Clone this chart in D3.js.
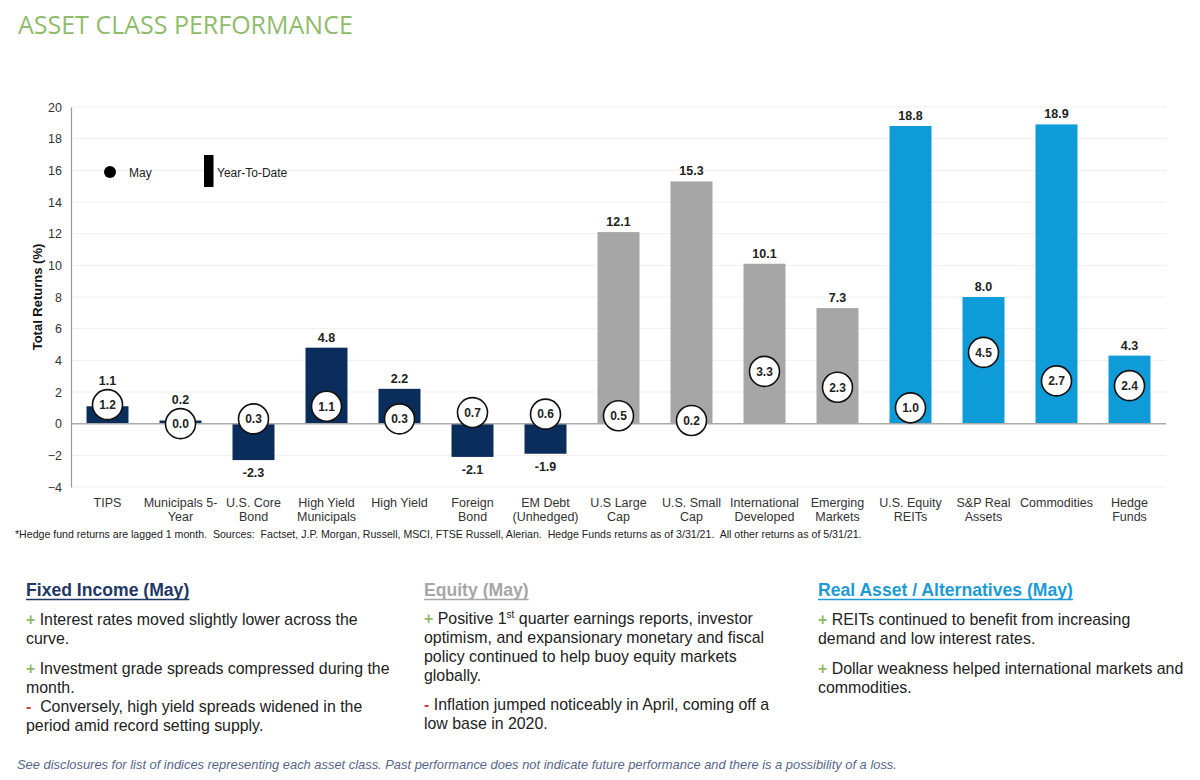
<!DOCTYPE html>
<html><head><meta charset="utf-8">
<script src="https://cdn.jsdelivr.net/npm/d3@7"></script>
<style>
html,body{margin:0;padding:0;background:#fff;}
svg{display:block;}
</style></head>
<body>
<svg id="chart" width="1200" height="780"></svg>
<script>
const categories = ["TIPS","Municipals 5-\nYear","U.S. Core\nBond","High Yield\nMunicipals","High Yield","Foreign\nBond","EM Debt\n(Unhedged)","U.S Large\nCap","U.S. Small\nCap","International\nDeveloped","Emerging\nMarkets","U.S. Equity\nREITs","S&P Real\nAssets","Commodities","Hedge\nFunds"];
const ytdValues = [1.1, 0.2, -2.3, 4.8, 2.2, -2.1, -1.9, 12.1, 15.3, 10.1, 7.3, 18.8, 8.0, 18.9, 4.3];
const mayValues = [1.2, 0.0, 0.3, 1.1, 0.3, 0.7, 0.6, 0.5, 0.2, 3.3, 2.3, 1.0, 4.5, 2.7, 2.4];
const groups = ["fixed","fixed","fixed","fixed","fixed","fixed","fixed","equity","equity","equity","equity","real","real","real","real"];
const yTicks = [-4,-2,0,2,4,6,8,10,12,14,16,18,20];

const groupColor = {fixed:"#0b2d5b", equity:"#a6a6a6", real:"#0f9ad8"};

const svg = d3.select("#chart");
const plotLeft = 71, plotRight = 1166, plotTop = 107, plotBottom = 487;

const x = d3.scaleBand().domain(d3.range(categories.length)).range([plotLeft, plotRight]).paddingInner(0.425).paddingOuter(0.2125);
const y = d3.scaleLinear().domain([-4, 20]).range([plotBottom, plotTop]);

// title
svg.append("text").attr("x", 18).attr("y", 34).attr("font-family", "Open Sans").attr("font-size", 25)
  .attr("fill", "#8fbc6c").text("ASSET CLASS PERFORMANCE");

// gridlines
svg.append("g").selectAll("line").data(yTicks.filter(d => d !== 0)).join("line")
  .attr("x1", plotLeft).attr("x2", plotRight).attr("y1", d => y(d)).attr("y2", d => y(d))
  .attr("stroke", "#efefef").attr("stroke-width", 1);

// y axis
const yAxis = d3.axisLeft(y).tickValues(yTicks).tickSize(0).tickPadding(9).tickFormat(d3.format("d"));
const yg = svg.append("g").attr("transform", `translate(${plotLeft},0)`).call(yAxis);
yg.select(".domain").attr("stroke", "#999").attr("stroke-width", 1.2);
yg.selectAll("text").attr("font-family", "Liberation Sans, Arial").attr("font-size", 12.5).attr("fill", "#333");

svg.append("text").attr("transform", `translate(42,${y(8)}) rotate(-90)`).attr("text-anchor", "middle")
  .attr("font-family", "Liberation Sans, Arial").attr("font-weight", "bold").attr("font-size", 13).attr("fill", "#111")
  .text("Total Returns (%)");

// bars
svg.append("g").selectAll("rect").data(ytdValues).join("rect")
  .attr("x", (d, i) => x(i)).attr("width", x.bandwidth())
  .attr("y", d => y(Math.max(0, d))).attr("height", d => Math.abs(y(d) - y(0)))
  .attr("fill", (d, i) => groupColor[groups[i]]);

// zero line
svg.append("line").attr("x1", plotLeft).attr("x2", plotRight).attr("y1", y(0)).attr("y2", y(0))
  .attr("stroke", "#aaa").attr("stroke-width", 1.5);

const R = 15;
// value labels
svg.append("g").selectAll("text").data(ytdValues).join("text")
  .attr("x", (d, i) => x(i) + x.bandwidth() / 2)
  .attr("y", (d, i) => {
    if (d < 0) return y(d) + 17;
    const circTop = y(mayValues[i]) - R;
    return Math.min(y(d) - 6, circTop - 5);
  })
  .attr("text-anchor", "middle").attr("font-family", "Liberation Sans, Arial").attr("font-weight", "bold")
  .attr("font-size", 12.5).attr("fill", "#222").text(d => d.toFixed(1));

// May circles
const cg = svg.append("g").selectAll("g").data(mayValues).join("g")
  .attr("transform", (d, i) => `translate(${x(i) + x.bandwidth() / 2},${y(d)})`);
cg.append("circle").attr("r", R).attr("fill", "#fff").attr("stroke", "#111").attr("stroke-width", 1.6);
cg.append("text").attr("text-anchor", "middle").attr("dy", "0.36em")
  .attr("font-family", "Liberation Sans, Arial").attr("font-weight", "bold").attr("font-size", 12).attr("fill", "#222")
  .text(d => d.toFixed(1));

// x labels
const xl = svg.append("g").selectAll("text").data(categories).join("text")
  .attr("x", (d, i) => x(i) + x.bandwidth() / 2).attr("y", 507)
  .attr("text-anchor", "middle").attr("font-family", "Liberation Sans, Arial").attr("font-size", 12.5).attr("fill", "#333");
xl.each(function(d) {
  const t = d3.select(this);
  d.split("\n").forEach((line, k) => {
    t.append("tspan").attr("x", t.attr("x")).attr("dy", k === 0 ? 0 : 14).text(line);
  });
});

// legend
svg.append("circle").attr("cx", 110).attr("cy", 172).attr("r", 6).attr("fill", "#000");
svg.append("text").attr("x", 129).attr("y", 176.5).attr("font-family", "Liberation Sans, Arial").attr("font-size", 12).attr("fill", "#222").text("May");
svg.append("rect").attr("x", 204).attr("y", 155).attr("width", 9.5).attr("height", 32).attr("fill", "#000");
svg.append("text").attr("x", 217).attr("y", 176.5).attr("font-family", "Liberation Sans, Arial").attr("font-size", 12).attr("fill", "#222").text("Year-To-Date");

// footnote
svg.append("text").attr("x", 15).attr("y", 538).attr("font-family", "Liberation Sans, Arial").attr("font-size", 10.6)
  .attr("fill", "#222").style("white-space", "pre")
  .text("*Hedge fund returns are lagged 1 month.  Sources:  Factset, J.P. Morgan, Russell, MSCI, FTSE Russell, Alerian.  Hedge Funds returns as of 3/31/21.  All other returns as of 5/31/21.");

// commentary sections
const sections = [
  {x: 26, title: "Fixed Income (May)", color: "#1f3864", lines: [
    {y: 625, sign: "+", text: " Interest rates moved slightly lower across the"},
    {y: 644, text: "curve."},
    {y: 674, sign: "+", text: " Investment grade spreads compressed during the"},
    {y: 693, text: "month."},
    {y: 712, sign: "-", text: "  Conversely, high yield spreads widened in the"},
    {y: 731, text: "period amid record setting supply."}
  ]},
  {x: 424, title: "Equity (May)", color: "#a6a6a6", lines: [
    {y: 624, sign: "+", text: " Positive 1", sup: "st", rest: " quarter earnings reports, investor"},
    {y: 643, text: "optimism, and expansionary monetary and fiscal"},
    {y: 662, text: "policy continued to help buoy equity markets"},
    {y: 681, text: "globally."},
    {y: 710, sign: "-", text: " Inflation jumped noticeably in April, coming off a"},
    {y: 729, text: "low base in 2020."}
  ]},
  {x: 818, title: "Real Asset / Alternatives (May)", color: "#1d9bd7", lines: [
    {y: 625, sign: "+", text: " REITs continued to benefit from increasing"},
    {y: 644, text: "demand and low interest rates."},
    {y: 674, sign: "+", text: " Dollar weakness helped international markets and"},
    {y: 693, text: "commodities."}
  ]}
];
sections.forEach(s => {
  const h = svg.append("text").attr("x", s.x).attr("y", 596).attr("font-family", "Liberation Sans, Arial")
    .attr("font-weight", "bold").attr("font-size", 17.6).attr("fill", s.color).text(s.title);
  const w = h.node().getComputedTextLength();
  svg.append("line").attr("x1", s.x).attr("x2", s.x + w).attr("y1", 599.5).attr("y2", 599.5)
    .attr("stroke", s.color).attr("stroke-width", 1.3);
  s.lines.forEach(l => {
    const t = svg.append("text").attr("x", s.x).attr("y", l.y).attr("font-family", "Liberation Sans, Arial")
      .attr("font-size", 15.9).attr("fill", "#222").style("white-space", "pre");
    if (l.sign) t.append("tspan").attr("fill", l.sign === "+" ? "#8dbb6a" : "#e03a3a").attr("font-weight", "bold").text(l.sign);
    t.append("tspan").text(l.text);
    if (l.sup) {
      t.append("tspan").attr("font-size", 10).attr("dy", -6).text(l.sup);
      t.append("tspan").attr("dy", 6).text(l.rest);
    }
  });
});

// footer
svg.append("text").attr("x", 17).attr("y", 769).attr("font-family", "Liberation Sans, Arial").attr("font-style", "italic")
  .attr("font-size", 12.9).attr("fill", "#56668a")
  .text("See disclosures for list of indices representing each asset class. Past performance does not indicate future performance and there is a possibility of a loss.");
</script>
</body></html>
